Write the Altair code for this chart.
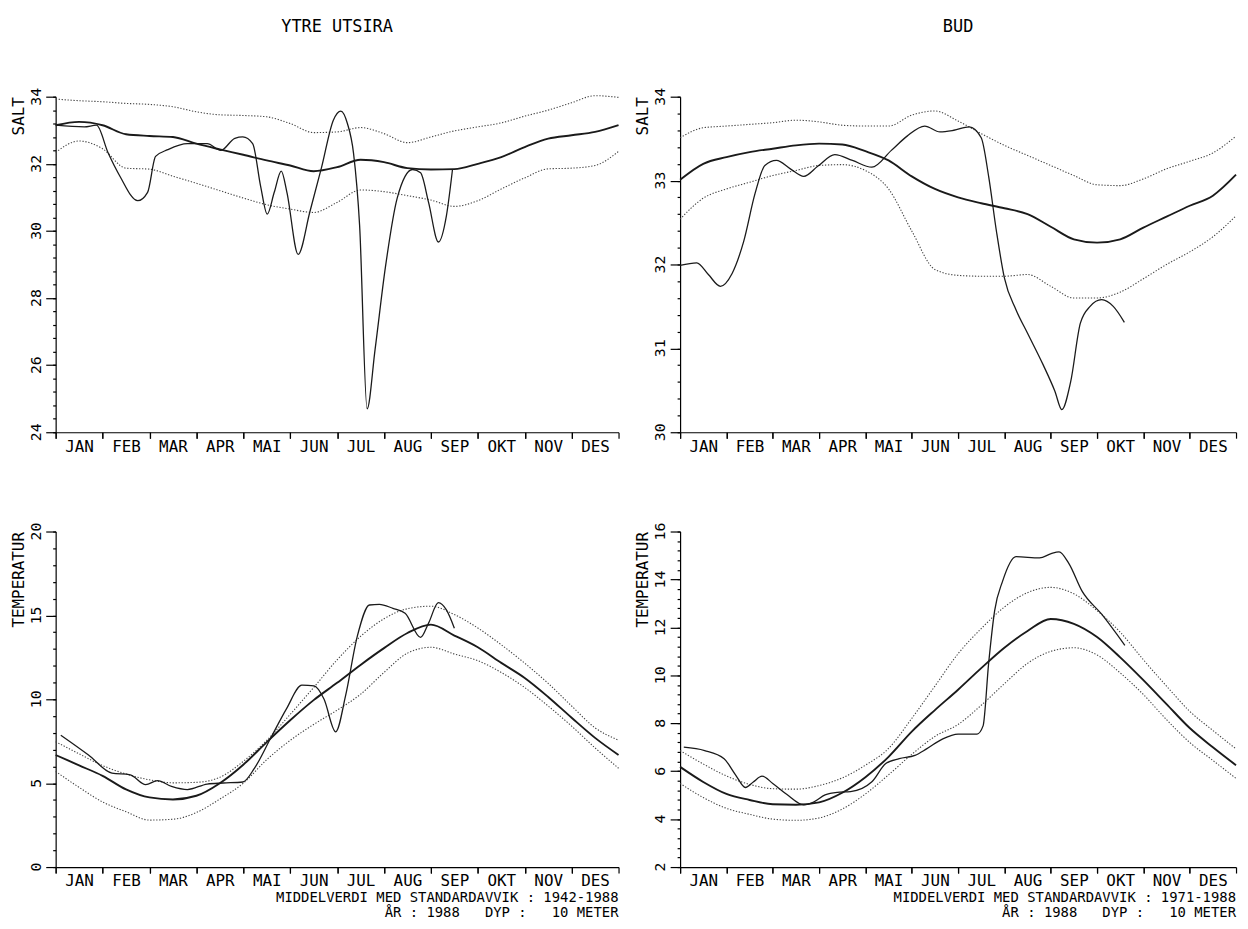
import altair as alt
import pandas as pd

MONTHS = ["JAN", "FEB", "MAR", "APR", "MAI", "JUN", "JUL", "AUG", "SEP", "OKT", "NOV", "DES"]
MONTH_STARTS = list(range(12))
MONTH_TICKS = list(range(13))

# common x grid (months since 1 Jan) for mean / standard deviation curves
GRID = [0, 0.5, 1, 1.5, 2, 2.5, 3, 3.5, 4, 4.5, 5, 5.5, 6, 6.5, 7, 7.5, 8, 8.5, 9, 9.5, 10, 10.5, 11, 11.5, 12]

# ---------------- YTRE UTSIRA, SALT ----------------
UTS_SALT_YTICKS = [24, 26, 28, 30, 32, 34]
UTS_SALT_MEAN = [33.15, 33.25, 33.15, 32.88, 32.83, 32.8, 32.6, 32.43, 32.27, 32.1, 31.95, 31.78, 31.9,
                 32.12, 32.05, 31.87, 31.83, 31.84, 32.0, 32.2, 32.5, 32.75, 32.85, 32.95, 33.15]
UTS_SALT_UPPER = [33.93, 33.88, 33.85, 33.8, 33.77, 33.7, 33.55, 33.46, 33.44, 33.4, 33.2, 32.93, 32.95,
                  33.08, 32.9, 32.63, 32.8, 32.98, 33.1, 33.22, 33.42, 33.6, 33.82, 34.03, 33.98]
UTS_SALT_LOWER = [32.34, 32.68, 32.45, 31.87, 31.84, 31.63, 31.42, 31.2, 30.98, 30.78, 30.65, 30.55, 30.85,
                  31.22, 31.17, 31.05, 30.92, 30.73, 30.9, 31.25, 31.58, 31.85, 31.87, 31.95, 32.37]
UTS_SALT_1988_X = [0, 0.61, 0.87, 1.12, 1.37, 1.75, 1.96, 2.13, 2.39, 2.81, 3.23, 3.52, 3.82, 3.99, 4.2,
                   4.37, 4.51, 4.66, 4.81, 4.93, 5.17, 5.42, 5.67, 5.92, 6.08, 6.22, 6.35, 6.48, 6.64,
                   6.81, 7.03, 7.28, 7.61, 7.78, 7.95, 8.16, 8.33, 8.46]
UTS_SALT_1988 = [33.15, 33.1, 33.15, 32.32, 31.63, 30.9, 31.15, 32.22, 32.42, 32.6, 32.6, 32.4, 32.76, 32.8,
                 32.6, 31.33, 30.5, 31.15, 31.78, 31.15, 29.3, 30.57, 31.9, 33.3, 33.57, 33.2, 32.32, 30.16,
                 24.7, 26.47, 28.92, 30.97, 31.83, 31.73, 30.85, 29.67, 30.45, 31.83]

# ---------------- BUD, SALT ----------------
BUD_SALT_YTICKS = [30, 31, 32, 33, 34]
BUD_SALT_MEAN = [33.01, 33.2, 33.28, 33.34, 33.38, 33.42, 33.44, 33.43, 33.35, 33.24, 33.05, 32.9, 32.8,
                 32.73, 32.67, 32.6, 32.45, 32.3, 32.26, 32.3, 32.44, 32.57, 32.7, 32.82, 33.07]
BUD_SALT_UPPER = [33.51, 33.63, 33.65, 33.67, 33.69, 33.72, 33.7, 33.66, 33.65, 33.65, 33.78, 33.83, 33.71,
                  33.56, 33.42, 33.3, 33.18, 33.06, 32.95, 32.94, 33.02, 33.14, 33.23, 33.33, 33.53]
BUD_SALT_LOWER = [32.54, 32.79, 32.9, 32.98, 33.06, 33.12, 33.18, 33.19, 33.12, 32.9, 32.4, 31.94, 31.87,
                  31.86, 31.86, 31.88, 31.74, 31.6, 31.6, 31.67, 31.83, 32.0, 32.15, 32.33, 32.58]
BUD_SALT_1988_X = [0, 0.36, 0.61, 0.87, 1.12, 1.37, 1.62, 1.83, 2.08, 2.38, 2.67, 2.97, 3.34, 3.72, 4.14,
                   4.56, 4.9, 5.28, 5.61, 5.91, 6.24, 6.5, 6.66, 6.83, 7.0, 7.25, 7.5, 7.84, 8.09, 8.24,
                   8.43, 8.64, 8.85, 9.1, 9.35, 9.59]
BUD_SALT_1988 = [31.99, 32.02, 31.88, 31.74, 31.89, 32.27, 32.85, 33.18, 33.24, 33.14, 33.05, 33.17, 33.31,
                 33.24, 33.16, 33.36, 33.53, 33.65, 33.58, 33.6, 33.64, 33.51, 33.05, 32.39, 31.84, 31.46,
                 31.18, 30.8, 30.49, 30.27, 30.6, 31.3, 31.5, 31.58, 31.5, 31.31]

# ---------------- YTRE UTSIRA, TEMPERATUR ----------------
UTS_TEMP_YTICKS = [0, 5, 10, 15, 20]
UTS_TEMP_MEAN = [6.68, 6.06, 5.44, 4.63, 4.15, 4.03, 4.25, 5.0, 6.1, 7.45, 8.75, 9.95, 10.98, 12.05, 13.05,
                 13.95, 14.45, 13.8, 13.1, 12.17, 11.27, 10.14, 8.9, 7.7, 6.68]
UTS_TEMP_UPPER = [7.47, 6.75, 6.05, 5.55, 5.2, 5.02, 5.05, 5.35, 6.3, 7.55, 9.1, 10.7, 12.35, 13.75, 14.8,
                  15.4, 15.55, 15.05, 14.25, 13.25, 12.15, 10.95, 9.6, 8.3, 7.56]
UTS_TEMP_LOWER = [5.7, 4.75, 3.88, 3.3, 2.8, 2.85, 3.25, 4.05, 5.0, 6.4, 7.55, 8.5, 9.35, 10.3, 11.6, 12.75,
                  13.1, 12.7, 12.3, 11.6, 10.7, 9.6, 8.4, 7.1, 5.89]
UTS_TEMP_1988_X = [0.11, 0.7, 1.2, 1.59, 1.92, 2.17, 2.47, 2.81, 3.23, 3.57, 3.99, 4.24, 4.58, 4.92, 5.25,
                   5.51, 5.72, 5.97, 6.18, 6.43, 6.69, 6.9, 7.19, 7.45, 7.78, 7.95, 8.16, 8.33, 8.5]
UTS_TEMP_1988 = [7.86, 6.68, 5.6, 5.5, 4.91, 5.15, 4.81, 4.62, 4.95, 5.01, 5.07, 5.9, 7.66, 9.43, 10.84,
                 10.8, 10.02, 8.06, 10.2, 13.75, 15.62, 15.66, 15.42, 15.13, 13.69, 14.54, 15.76, 15.33, 14.24]

# ---------------- BUD, TEMPERATUR ----------------
BUD_TEMP_YTICKS = [2, 4, 6, 8, 10, 12, 14, 16]
BUD_TEMP_MEAN = [6.18, 5.55, 5.05, 4.8, 4.62, 4.6, 4.7, 5.1, 5.75, 6.6, 7.65, 8.55, 9.4, 10.3, 11.15, 11.85,
                 12.35, 12.15, 11.6, 10.75, 9.8, 8.8, 7.8, 7.0, 6.25]
BUD_TEMP_UPPER = [6.86, 6.3, 5.8, 5.45, 5.27, 5.25, 5.4, 5.72, 6.25, 6.95, 8.2, 9.55, 10.9, 11.95, 12.85,
                  13.45, 13.67, 13.4, 12.7, 11.8, 10.65, 9.55, 8.5, 7.7, 6.93]
BUD_TEMP_LOWER = [5.49, 4.9, 4.45, 4.2, 4.0, 3.95, 4.05, 4.42, 5.05, 5.85, 6.7, 7.45, 7.95, 8.75, 9.65, 10.5,
                  11.0, 11.15, 10.85, 10.1, 9.2, 8.15, 7.2, 6.45, 5.7]
BUD_TEMP_1988_X = [0.08, 0.53, 0.95, 1.2, 1.41, 1.58, 1.77, 2.0, 2.3, 2.67, 2.88, 3.13, 3.39, 3.68, 4.14,
                   4.44, 4.73, 5.07, 5.32, 5.66, 6.0, 6.41, 6.54, 6.66, 6.79, 6.96, 7.25, 7.76, 8.01, 8.18,
                   8.39, 8.68, 9.1, 9.6]
BUD_TEMP_1988 = [7.0, 6.86, 6.52, 5.84, 5.32, 5.55, 5.79, 5.49, 5.04, 4.6, 4.71, 5.01, 5.12, 5.15, 5.56,
                 6.32, 6.52, 6.66, 6.93, 7.34, 7.55, 7.55, 7.89, 10.5, 12.7, 13.92, 14.95, 14.9, 15.08, 15.15,
                 14.67, 13.5, 12.55, 11.25]

FOOT1 = "MIDDELVERDI MED STANDARDAVVIK : 1942-1988"
FOOT1_BUD = "MIDDELVERDI MED STANDARDAVVIK : 1971-1988"
FOOT2 = "ÅR : 1988\u00a0\u00a0\u00a0DYP :\u00a0\u00a0\u00a010 METER"

MONO = "DejaVu Sans Mono"
W_LEFT, W_RIGHT, H = 567, 560, 338


def ticks(lo, hi, step):
    n = int(round((hi - lo) / step))
    return [round(lo + i * step, 2) for i in range(n + 1)]


def panel(width, mean, upper, lower, obs_x, obs, ylab, yticks, minor, title=None, foot=None):
    dom = [yticks[0], yticks[-1]]
    xscale = alt.Scale(domain=[0, 12], nice=False, zero=False)
    yscale = alt.Scale(domain=dom, nice=False, zero=False)
    x = alt.X("m:Q", title=None, scale=xscale,
              axis=alt.Axis(orient="bottom", values=MONTH_STARTS,
                            labelExpr=str(MONTHS) + "[datum.value]",
                            labelOffset=width / 24.0, labelAlign="center", labelBaseline="top",
                            labelPadding=0, labelFont=MONO, labelFontSize=16,
                            tickSize=6, labelOverlap=False, labelFlush=False, grid=False))
    x_minor = alt.X("m:Q", title=None, scale=xscale,
                    axis=alt.Axis(orient="bottom", values=MONTH_TICKS, tickSize=6, labels=False,
                                  domain=False, grid=False, title=None))
    y_main = alt.Y("v:Q", title=ylab, scale=yscale,
                   axis=alt.Axis(orient="left", values=yticks, labels=False, tickSize=10,
                                 grid=False, titleAnchor="end", titleAngle=270, titleFont=MONO,
                                 titleFontSize=16, titleFontWeight="normal", titlePadding=19))
    y_minor = alt.Y("v:Q", title=None, scale=yscale,
                    axis=alt.Axis(orient="left", values=ticks(dom[0], dom[1], minor), tickSize=3,
                                  labels=False, domain=False, grid=False, title=None))
    d_grid = pd.DataFrame({"m": GRID, "mean": mean, "upper": upper, "lower": lower})
    d_obs = pd.DataFrame({"m": obs_x, "v": obs})
    d_lab = pd.DataFrame({"v": yticks, "t": [str(t) for t in yticks]})
    std_layers = [
        alt.Chart(d_grid).transform_calculate(v=f"datum.{c}")
        .mark_line(interpolate="monotone", color="#444", strokeWidth=1.1, strokeDash=[1.3, 1.7])
        .encode(x=x, y=y_main)
        for c in ("upper", "lower")
    ]
    mean_layer = (alt.Chart(d_grid).transform_calculate(v="datum.mean")
                  .mark_line(interpolate="monotone", color="#1a1a1a", strokeWidth=1.9)
                  .encode(x=x, y=y_main))
    obs_layer = (alt.Chart(d_obs)
                 .mark_line(interpolate="monotone", color="#1a1a1a", strokeWidth=1.3)
                 .encode(x=x, y=y_main))
    ylabels = (alt.Chart(d_lab)
               .mark_text(angle=270, align="center", baseline="bottom", font=MONO, fontSize=15,
                          color="black")
               .encode(y=y_main, x=alt.value(-12), text="t:N"))
    minor_layer = (alt.Chart(d_obs).mark_line(opacity=0)
                   .encode(x=x_minor, y=y_minor))
    main = alt.layer(mean_layer, *std_layers, obs_layer, ylabels)
    ch = (alt.layer(main, minor_layer).resolve_axis(x="independent", y="independent")
          .properties(width=width, height=H))
    if title:
        ch = ch.properties(title=alt.TitleParams(title, anchor="middle", frame="group", offset=52,
                                                 font=MONO, fontSize=17, fontWeight="normal",
                                                 color="black"))
    if foot:
        ch = ch.properties(title=alt.TitleParams(foot, orient="bottom", anchor="end", frame="group",
                                                 offset=2, font=MONO, fontSize=14,
                                                 fontWeight="normal", lineHeight=15, align="right",
                                                 color="black"))
    return ch


A = panel(W_LEFT, UTS_SALT_MEAN, UTS_SALT_UPPER, UTS_SALT_LOWER, UTS_SALT_1988_X, UTS_SALT_1988,
          "SALT", UTS_SALT_YTICKS, 0.4, title="YTRE UTSIRA")
B = panel(W_RIGHT, BUD_SALT_MEAN, BUD_SALT_UPPER, BUD_SALT_LOWER, BUD_SALT_1988_X, BUD_SALT_1988,
          "SALT", BUD_SALT_YTICKS, 0.2, title="BUD")
C = panel(W_LEFT, UTS_TEMP_MEAN, UTS_TEMP_UPPER, UTS_TEMP_LOWER, UTS_TEMP_1988_X, UTS_TEMP_1988,
          "TEMPERATUR", UTS_TEMP_YTICKS, 1, foot=[FOOT1, FOOT2])
D = panel(W_RIGHT, BUD_TEMP_MEAN, BUD_TEMP_UPPER, BUD_TEMP_LOWER, BUD_TEMP_1988_X, BUD_TEMP_1988,
          "TEMPERATUR", BUD_TEMP_YTICKS, 0.4, foot=[FOOT1_BUD, FOOT2])

chart = (alt.vconcat(alt.hconcat(A, B, spacing=12), alt.hconcat(C, D, spacing=12), spacing=68)
         .properties(padding={"left": 2, "top": 6, "right": 0, "bottom": 0}, background="white")
         .configure_view(stroke=None)
         .configure_axis(domainColor="black", tickColor="black", labelColor="black",
                         titleColor="black", domainWidth=1.2, tickWidth=1.2))

chart.save("out.html", embed_options={"renderer": "svg", "actions": False})
